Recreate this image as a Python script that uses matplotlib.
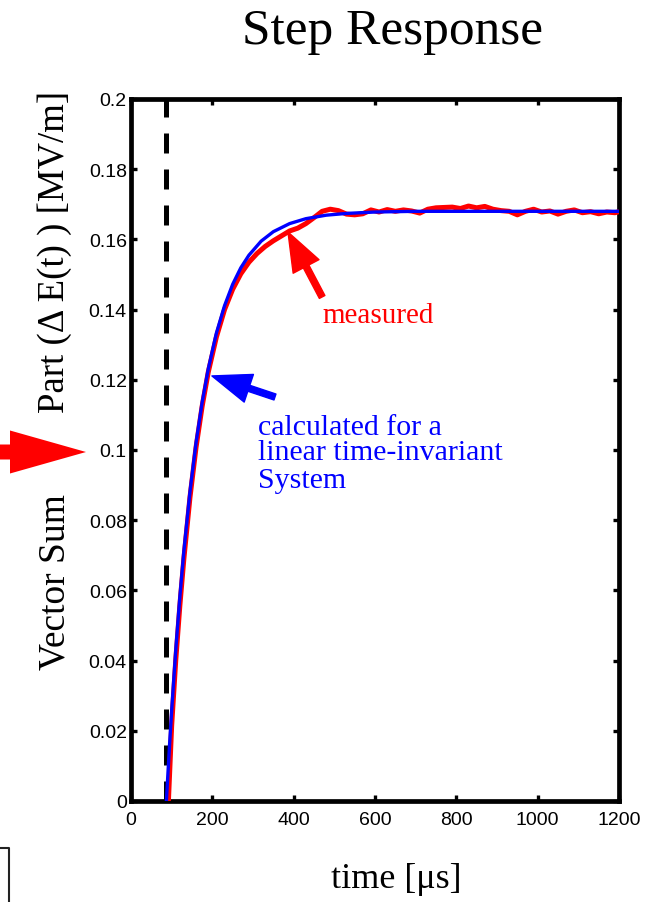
import matplotlib
matplotlib.use("Agg")
import matplotlib.pyplot as plt
from matplotlib.patches import FancyArrow
from matplotlib.lines import Line2D

# ---- data ----
t_calc = [87, 95, 100, 110, 120, 130, 145, 160, 175, 190, 210, 230, 250, 270, 290,
          320, 350, 390, 430, 480, 530, 600, 700, 800, 900, 1000, 1100, 1200]
v_calc = [0.0, 0.0164, 0.0258, 0.0429, 0.0580, 0.0712, 0.0881, 0.1021, 0.1136, 0.1231,
          0.1333, 0.1411, 0.1472, 0.1519, 0.1555, 0.1595, 0.1622, 0.1645, 0.1659,
          0.1669, 0.1674, 0.1678, 0.1680, 0.1680, 0.1680, 0.1680, 0.1680, 0.1680]

t_meas = [92, 100, 110, 120, 130, 145, 160, 175, 190, 210, 230, 250, 270, 290, 310,
          330, 350, 370, 390, 410, 430, 450, 470, 490, 510, 530, 550, 570, 590, 610,
          630, 650, 670, 690, 710, 730, 750, 770, 790, 810, 830, 850, 870, 890, 910,
          930, 950, 970, 990, 1010, 1030, 1050, 1070, 1090, 1110, 1130, 1150, 1170,
          1190, 1200]
v_meas = [0.0, 0.0215, 0.0400, 0.0555, 0.0690, 0.0865, 0.1008, 0.1125, 0.1222, 0.1322,
          0.1400, 0.1458, 0.1502, 0.1535, 0.1560, 0.1580, 0.1596, 0.1610, 0.1624,
          0.1632, 0.1645, 0.1662, 0.1680, 0.1686, 0.1682, 0.1672, 0.1670, 0.1673,
          0.1684, 0.1678, 0.1685, 0.1680, 0.1684, 0.1681, 0.1675, 0.1686, 0.1690,
          0.1691, 0.1692, 0.1688, 0.1695, 0.1690, 0.1694, 0.1686, 0.1682, 0.1680,
          0.1670, 0.1680, 0.1686, 0.1678, 0.1681, 0.1672, 0.1680, 0.1684, 0.1676,
          0.1679, 0.1673, 0.1678, 0.1676, 0.1679]

step_time = 85
x_ticks = [0, 200, 400, 600, 800, 1000, 1200]
x_ticklabels = ["0", "200", "400", "600", "800", "1000", "1200"]
y_ticks = [0, 0.02, 0.04, 0.06, 0.08, 0.1, 0.12, 0.14, 0.16, 0.18, 0.2]
y_ticklabels = ["0", "0.02", "0.04", "0.06", "0.08", "0.1", "0.12", "0.14", "0.16", "0.18", "0.2"]

serif = ["Liberation Serif", "DejaVu Serif"]
narrow = ["Liberation Sans Narrow", "Liberation Sans", "DejaVu Sans"]

W, H = 652, 903
fig = plt.figure(figsize=(W / 100, H / 100), dpi=100)
ax = fig.add_axes([131 / W, 1 - 802 / H, (619 - 131) / W, (802 - 100) / H])

ax.plot(t_meas, v_meas, color="#ff0000", lw=3.6, solid_capstyle="butt",
        solid_joinstyle="round", zorder=3)
ax.plot(t_calc, v_calc, color="#0000ff", lw=2.4, solid_joinstyle="round", zorder=4)
ax.axvline(step_time, color="black", lw=3.6, linestyle=(0, (4, 3.2)), zorder=2)

ax.set_xlim(0, 1200)
ax.set_ylim(0, 0.2)
ax.set_xticks(x_ticks)
ax.set_xticklabels(x_ticklabels, family=narrow, fontsize=14)
ax.set_yticks(y_ticks)
ax.set_yticklabels(y_ticklabels, family=narrow, fontsize=14)
ax.tick_params(direction="in", length=4, width=2.4, top=True, right=True, color="black")
ax.tick_params(axis="x", pad=7)
ax.tick_params(axis="y", pad=3)
for s in ax.spines.values():
    s.set_linewidth(3.4)
    s.set_color("black")

# titles / labels
fig.text(393 / W, 1 - 32 / H, "Step Response", family=serif, fontsize=37,
         ha="center", va="center")
fig.text(396 / W, 1 - 880 / H, "time [\u03bcs]", family=serif, fontsize=26,
         ha="center", va="center")
fig.text(55 / W, 1 - 582 / H, "Vector Sum", family=serif, fontsize=27,
         rotation=90, ha="center", va="center")
fig.text(55 / W, 1 - 252 / H, "Part (\u0394 E(t) ) [MV/m]", family=serif, fontsize=26.5,
         rotation=90, ha="center", va="center")

# annotations
arrow_style = "simple,head_length=2.8,head_width=2.1,tail_width=0.45"
ax.annotate("", xy=(199, 0.1211), xytext=(354, 0.1151),
            arrowprops=dict(arrowstyle=arrow_style, color="#0000ff",
                            shrinkA=0, shrinkB=0), zorder=5)
ax.annotate("", xy=(386, 0.1621), xytext=(470, 0.1436),
            arrowprops=dict(arrowstyle=arrow_style, color="#ff0000",
                            shrinkA=0, shrinkB=0), zorder=5)
ax.text(470, 0.1365, "measured", color="#ff0000", family=serif, fontsize=21, va="baseline")
ax.text(312, 0.1045, "calculated for a", color="#0000ff", family=serif, fontsize=21.5, va="baseline")
ax.text(312, 0.0974, "linear time-invariant", color="#0000ff", family=serif, fontsize=21.5, va="baseline")
ax.text(312, 0.0895, "System", color="#0000ff", family=serif, fontsize=21.5, va="baseline")

# big red arrow on the left (figure pixels)
arr = FancyArrow(-10 / W, 1 - 453 / H, 96 / W, 0, width=15 / H, head_width=43 / H,
                 head_length=76 / W, length_includes_head=True, color="#ff0000",
                 transform=fig.transFigure, lw=0)
fig.add_artist(arr)

# partial box at the bottom-left corner
fig.add_artist(Line2D([0, 9 / W, 9 / W], [1 - 849 / H, 1 - 849 / H, 0],
                      transform=fig.transFigure, color="#222222", lw=1.5))

fig.savefig("out.png", dpi=100)
